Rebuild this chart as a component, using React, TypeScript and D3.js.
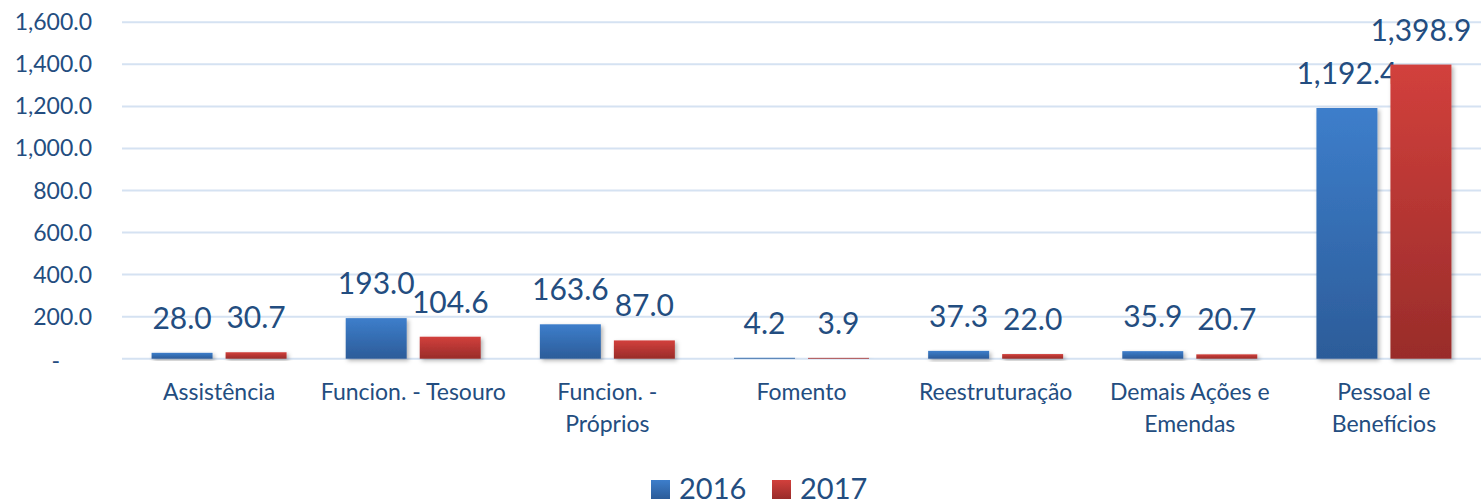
import React from "react";
import * as d3 from "d3";

const categories = [
  "Assistência",
  "Funcion. - Tesouro",
  "Funcion. - Próprios",
  "Fomento",
  "Reestruturação",
  "Demais Ações e Emendas",
  "Pessoal e Benefícios",
];
const categoryLines = [
  ["Assistência"],
  ["Funcion. - Tesouro"],
  ["Funcion. -", "Próprios"],
  ["Fomento"],
  ["Reestruturação"],
  ["Demais Ações e", "Emendas"],
  ["Pessoal e", "Benefícios"],
];
const seriesNames = ["2016", "2017"];
const values2016 = [28.0, 193.0, 163.6, 4.2, 37.3, 35.9, 1192.4];
const values2017 = [30.7, 104.6, 87.0, 3.9, 22.0, 20.7, 1398.9];
const yTicks = [0, 200, 400, 600, 800, 1000, 1200, 1400, 1600];

const W = 1481;
const H = 504;
const FONT = "Lato, 'Open Sans', sans-serif";
const TEXT = "#234D80";

const fmt = (v: number) => (v === 0 ? "-" : d3.format(",.1f")(v));

export default function App() {
  const y = d3.scaleLinear().domain([0, 1600]).range([358.7, 22.3]);
  const x0 = d3.scaleBand().domain(categories).range([122, 1481]).padding(0);
  const groupW = 135;
  const x1 = d3.scaleBand().domain(seriesNames).range([0, groupW]).paddingInner(0.176);
  const seriesValues = [values2016, values2017];
  const grads = ["gBlue", "gRed"];

  return (
    <div style={{ position: "absolute", left: 0, top: 0 }}>
      <svg width={W} height={H} style={{ display: "block", background: "#fff" }}>
        <defs>
          <linearGradient id="gBlue" x1="0" y1="0" x2="0" y2="1">
            <stop offset="0" stopColor="#3D7ECB" />
            <stop offset="1" stopColor="#2C5C99" />
          </linearGradient>
          <linearGradient id="gRed" x1="0" y1="0" x2="0" y2="1">
            <stop offset="0" stopColor="#D2403C" />
            <stop offset="1" stopColor="#992C2A" />
          </linearGradient>
          <filter id="shadow" x="-20%" y="-20%" width="150%" height="150%">
            <feDropShadow dx="2" dy="2" stdDeviation="2" floodColor="#000" floodOpacity="0.3" />
          </filter>
        </defs>
        {yTicks.map((t) => (
          <g key={t}>
            <line x1={122} x2={1481} y1={y(t)} y2={y(t)} stroke="#D5E2F2" strokeWidth={2} />
            <text
              x={t === 0 ? 60 : 92}
              y={y(t) + (t === 0 ? 10 : 8)}
              textAnchor="end"
              fontFamily={FONT}
              fontSize={23}
              fill={TEXT}
            >
              {fmt(t)}
            </text>
          </g>
        ))}
        {categories.map((c, i) => {
          const gx = (x0(c) as number) + x0.bandwidth() / 2 - groupW / 2;
          return (
            <g key={c}>
              {seriesNames.map((s, si) => {
                const v = seriesValues[si][i];
                const bx = gx + (x1(s) as number);
                const bw = x1.bandwidth();
                return (
                  <g key={s}>
                    <rect
                      x={bx}
                      y={y(v)}
                      width={bw}
                      height={y(0) - y(v)}
                      fill={`url(#${grads[si]})`}
                      filter="url(#shadow)"
                    />
                    <text
                      x={bx + bw / 2}
                      y={y(v) - 24}
                      textAnchor="middle"
                      fontFamily={FONT}
                      fontSize={30}
                      fill={TEXT}
                    >
                      {fmt(v)}
                    </text>
                  </g>
                );
              })}
              {categoryLines[i].map((ln, li) => (
                <text
                  key={li}
                  x={(x0(c) as number) + x0.bandwidth() / 2}
                  y={400 + li * 32}
                  textAnchor="middle"
                  fontFamily={FONT}
                  fontSize={23}
                  fill={TEXT}
                >
                  {ln}
                </text>
              ))}
            </g>
          );
        })}
        {seriesNames.map((s, si) => {
          const lx = si === 0 ? 651 : 772;
          return (
            <g key={s}>
              <rect x={lx} y={480} width={19} height={19} fill={`url(#${grads[si]})`} />
              <text x={lx + 28} y={499} fontFamily={FONT} fontSize={29} fill={TEXT}>
                {s}
              </text>
            </g>
          );
        })}
      </svg>
    </div>
  );
}
